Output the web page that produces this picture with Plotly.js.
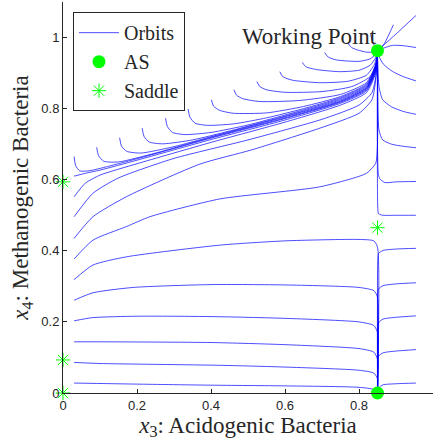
<!DOCTYPE html>
<html>
<head>
<meta charset="utf-8">
<script src="https://cdn.plot.ly/plotly-3.0.1.min.js"></script>
<style>html,body{margin:0;padding:0;background:#fff;}#chart{width:436px;height:443px;}</style>
</head>
<body>
<div id="chart"></div>
<script>
// Orbits starting on the left edge (x3 = 0.03)
const orbitL1 = [[0.03,0.028],[0.2,0.025],[0.4,0.022],[0.6,0.02],[0.8,0.016],[0.84,0.01],[0.85,0]];
const orbitL2 = [[0.03,0.086],[0.1,0.083],[0.42,0.078],[0.6,0.073],[0.8,0.064],[0.84,0.056],[0.85,0.04],[0.85,0]];
const orbitL3 = [[0.03,0.144],[0.1,0.144],[0.4,0.142],[0.6,0.136],[0.8,0.125],[0.84,0.115],[0.85,0.095],[0.85,0]];
const orbitL4 = [[0.03,0.203],[0.08,0.212],[0.2,0.216],[0.4,0.215],[0.6,0.21],[0.8,0.2],[0.84,0.19],[0.85,0.17],[0.85,0]];
const orbitL5 = [[0.03,0.261],[0.081,0.282],[0.19,0.297],[0.4,0.305],[0.6,0.304],[0.8,0.297],[0.84,0.288],[0.85,0.27],[0.85,0]];
const orbitL6 = [[0.03,0.319],[0.081,0.36],[0.171,0.383],[0.424,0.416],[0.6,0.428],[0.8,0.432],[0.84,0.428],[0.85,0.41],[0.85,0]];
const orbitL7 = [[0.03,0.377],[0.081,0.43],[0.171,0.468],[0.235,0.496],[0.424,0.546],[0.694,0.58],[0.82,0.618],[0.845,0.646],[0.85,0.7],[0.85,0.963]];
const orbitL8 = [[0.03,0.435],[0.081,0.496],[0.171,0.552],[0.37,0.644],[0.51,0.684],[0.694,0.745],[0.8,0.787],[0.835,0.825],[0.845,0.88],[0.85,0.963]];
const orbitL9 = [[0.03,0.496],[0.081,0.562],[0.15,0.605],[0.3,0.66],[0.5,0.712],[0.7,0.77],[0.8,0.81],[0.835,0.845],[0.847,0.9],[0.85,0.963]];
const orbitL10 = [[0.03,0.552],[0.06,0.59],[0.1,0.613],[0.2,0.645],[0.4,0.705],[0.6,0.762],[0.75,0.81],[0.82,0.845],[0.845,0.9],[0.85,0.963]];
const orbitL11 = [[0.03,0.61],[0.06,0.618],[0.1,0.627],[0.2,0.655],[0.4,0.713],[0.6,0.768],[0.75,0.815],[0.82,0.85],[0.845,0.905],[0.85,0.963]];
// Orbits starting on the upper slanted edge
const orbitH1 = [[0.03,0.665],[0.034,0.64],[0.045,0.625],[0.07,0.625],[0.2,0.659],[0.4,0.717],[0.6,0.772],[0.75,0.818],[0.82,0.853],[0.845,0.908],[0.85,0.963]];
const orbitH2 = [[0.091,0.691],[0.096,0.668],[0.11,0.652],[0.15,0.65],[0.25,0.675],[0.4,0.719],[0.6,0.774],[0.75,0.82],[0.82,0.856],[0.845,0.91],[0.85,0.963]];
const orbitH3 = [[0.153,0.718],[0.158,0.695],[0.172,0.68],[0.21,0.675],[0.3,0.693],[0.4,0.721],[0.6,0.777],[0.75,0.822],[0.82,0.858],[0.845,0.912],[0.85,0.963]];
const orbitH4 = [[0.214,0.745],[0.219,0.722],[0.233,0.706],[0.27,0.701],[0.35,0.712],[0.45,0.737],[0.6,0.779],[0.75,0.825],[0.82,0.86],[0.845,0.914],[0.85,0.963]];
const orbitH5 = [[0.277,0.773],[0.282,0.75],[0.296,0.733],[0.33,0.727],[0.4,0.733],[0.5,0.754],[0.6,0.782],[0.75,0.828],[0.82,0.863],[0.845,0.916],[0.85,0.963]];
const orbitH6 = [[0.338,0.799],[0.343,0.776],[0.357,0.759],[0.39,0.753],[0.46,0.757],[0.55,0.774],[0.65,0.8],[0.75,0.831],[0.82,0.866],[0.845,0.918],[0.85,0.963]];
const orbitH7 = [[0.401,0.825],[0.407,0.807],[0.424,0.795],[0.46,0.787],[0.55,0.788],[0.65,0.806],[0.75,0.834],[0.82,0.869],[0.845,0.92],[0.85,0.963]];
const orbitH8 = [[0.462,0.853],[0.469,0.838],[0.486,0.828],[0.532,0.82],[0.64,0.823],[0.75,0.84],[0.82,0.873],[0.845,0.922],[0.85,0.963]];
const orbitH9 = [[0.524,0.876],[0.532,0.862],[0.55,0.853],[0.6,0.846],[0.7,0.848],[0.78,0.862],[0.83,0.89],[0.846,0.928],[0.85,0.963]];
const orbitH10 = [[0.586,0.904],[0.594,0.89],[0.62,0.88],[0.694,0.873],[0.77,0.877],[0.82,0.894],[0.842,0.925],[0.85,0.963]];
const orbitH11 = [[0.647,0.93],[0.656,0.918],[0.685,0.91],[0.748,0.904],[0.8,0.908],[0.83,0.922],[0.846,0.945],[0.85,0.963]];
const orbitH12 = [[0.707,0.958],[0.717,0.945],[0.739,0.937],[0.8,0.933],[0.83,0.94],[0.845,0.953],[0.85,0.963]];
const orbitH13 = [[0.77,0.984],[0.78,0.972],[0.796,0.965],[0.82,0.959],[0.84,0.959],[0.85,0.963]];
const orbitH14 = [[0.831,1.009],[0.836,0.99],[0.843,0.975],[0.85,0.963]];
const orbitH15 = [[0.893,1.036],[0.886,1.02],[0.869,0.984],[0.856,0.967],[0.85,0.963]];
const orbitH16 = [[0.954,1.062],[0.9,1.01],[0.85,0.963]];
// Orbits starting on the right edge (x3 = 0.954)
const orbitR1 = [[0.954,0.028],[0.9,0.026],[0.865,0.023],[0.853,0.014],[0.85,0]];
const orbitR2 = [[0.954,0.122],[0.9,0.118],[0.865,0.113],[0.853,0.104],[0.851,0.09],[0.85,0]];
const orbitR3 = [[0.954,0.217],[0.9,0.213],[0.865,0.208],[0.853,0.198],[0.851,0.185],[0.85,0]];
const orbitR4 = [[0.954,0.31],[0.9,0.307],[0.865,0.302],[0.853,0.293],[0.851,0.28],[0.85,0]];
const orbitR5 = [[0.954,0.407],[0.9,0.405],[0.865,0.401],[0.853,0.393],[0.851,0.38],[0.85,0]];
const orbitR6 = [[0.954,0.5],[0.9,0.5],[0.865,0.5],[0.853,0.504],[0.851,0.515],[0.85,0.963]];
const orbitR7 = [[0.954,0.595],[0.9,0.594],[0.87,0.592],[0.856,0.603],[0.852,0.618],[0.85,0.963]];
const orbitR8 = [[0.954,0.69],[0.92,0.694],[0.888,0.7],[0.864,0.712],[0.854,0.74],[0.85,0.963]];
const orbitR9 = [[0.954,0.784],[0.92,0.792],[0.888,0.805],[0.864,0.825],[0.854,0.862],[0.851,0.918],[0.85,0.963]];
const orbitR10 = [[0.954,0.878],[0.92,0.89],[0.89,0.905],[0.866,0.925],[0.855,0.945],[0.85,0.963]];
const orbitR11 = [[0.954,0.972],[0.92,0.977],[0.89,0.978],[0.866,0.97],[0.85,0.963]];

const orbits = [orbitL1,orbitL2,orbitL3,orbitL4,orbitL5,orbitL6,orbitL7,orbitL8,orbitL9,orbitL10,orbitL11,
  orbitH1,orbitH2,orbitH3,orbitH4,orbitH5,orbitH6,orbitH7,orbitH8,orbitH9,orbitH10,orbitH11,orbitH12,orbitH13,orbitH14,orbitH15,orbitH16,
  orbitR1,orbitR2,orbitR3,orbitR4,orbitR5,orbitR6,orbitR7,orbitR8,orbitR9,orbitR10,orbitR11];

// Equilibria
const asX = [0.85, 0.85];
const asY = [0.963, 0];
const saddleX = [0, 0, 0, 0.85];
const saddleY = [0.594, 0.093, 0, 0.465];

const xTicks = [0, 0.2, 0.4, 0.6, 0.8, 1];
const xTickText = ['0', '0.2', '0.4', '0.6', '0.8', '1'];
const yTicks = [0, 0.2, 0.4, 0.6, 0.8, 1];
const yTickText = ['0', '0.2', '0.4', '0.6', '0.8', '1'];

const blue = 'rgb(0,0,255)';
const green = 'rgb(0,255,0)';
const serif = 'Liberation Serif, DejaVu Serif, serif';

const traces = orbits.map((o, i) => ({
  type: 'scatter', mode: 'lines',
  x: o.map(p => p[0]), y: o.map(p => p[1]),
  line: {color: blue, width: 0.7, shape: 'spline', smoothing: 0.6},
  name: 'Orbits', showlegend: i === 0, legendrank: 1,
  hoverinfo: 'skip', cliponaxis: true
}));
traces.push({
  type: 'scatter', mode: 'markers', x: asX, y: asY, name: 'AS',
  marker: {color: green, size: 13, symbol: 'circle'}, cliponaxis: false, legendrank: 2
});
traces.push({
  type: 'scatter', mode: 'markers', x: saddleX, y: saddleY, name: 'Saddle',
  marker: {color: green, size: 12, symbol: 'asterisk-open', line: {color: green, width: 1}},
  cliponaxis: false, legendrank: 3
});

const axisCommon = {
  showgrid: false, zeroline: false, showline: true, linecolor: '#262626', linewidth: 1,
  ticks: 'inside', ticklen: 4, tickcolor: '#262626', tickwidth: 1,
  tickfont: {family: 'Liberation Sans, Arial, sans-serif', size: 13, color: '#262626'},
  mirror: false
};

const layout = {
  width: 436, height: 443,
  margin: {l: 63, r: 3, t: 2, b: 50},
  paper_bgcolor: '#fff', plot_bgcolor: '#fff',
  showlegend: true,
  xaxis: Object.assign({}, axisCommon, {
    range: [0, 1], tickvals: xTicks, ticktext: xTickText,
    title: {text: '<i>x</i><sub>3</sub>: Acidogenic Bacteria', font: {family: serif, size: 23, color: '#262626'}, standoff: 3}
  }),
  yaxis: Object.assign({}, axisCommon, {
    range: [0, 1.1], tickvals: yTicks, ticktext: yTickText,
    title: {text: '<i>x</i><sub>4</sub>: Methanogenic Bacteria', font: {family: serif, size: 23, color: '#262626'}, standoff: 6}
  }),
  legend: {
    x: 0.027, y: 0.974, xanchor: 'left', yanchor: 'top',
    bgcolor: '#fff', bordercolor: '#262626', borderwidth: 1,
    font: {family: serif, size: 20, color: '#262626'},
    itemwidth: 40, traceorder: 'normal'
  },
  annotations: [{
    x: 0.667, y: 1.002, xref: 'x', yref: 'y', text: 'Working Point', showarrow: false,
    font: {family: serif, size: 23, color: '#262626'}
  }]
};

Plotly.newPlot('chart', traces, layout, {displayModeBar: false, staticPlot: true});
</script>
</body>
</html>
